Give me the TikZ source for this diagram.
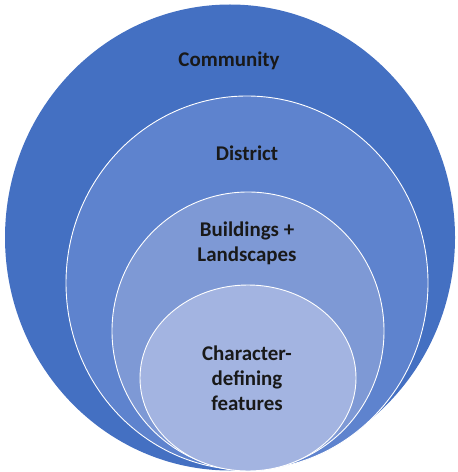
\documentclass[tikz,border=0pt]{standalone}
\usepackage{fontspec}
\setmainfont{Carlito}
\begin{document}
\begin{tikzpicture}[x=1bp,y=-1bp,
  ring/.style={draw=white,line width=0.9bp},
  lbl/.style={font=\bfseries\fontsize{21}{25}\selectfont,align=center,text=black!90}]
\useasboundingbox (0,0) rectangle (458,472);
\definecolor{c1}{RGB}{68,112,194}
\definecolor{c2}{RGB}{94,131,206}
\definecolor{c3}{RGB}{126,153,213}
\definecolor{c4}{RGB}{163,180,225}
\fill[c1] (230,237.5) ellipse [x radius=225, y radius=233];
\filldraw[ring,fill=c2] (247,283) ellipse [x radius=181, y radius=187];
\filldraw[ring,fill=c3] (248,331) ellipse [x radius=136, y radius=139];
\filldraw[ring,fill=c4] (248,378) ellipse [x radius=108, y radius=93];
\node[lbl] (community) at (229,61) {Community};
\node[lbl] (district) at (247,153) {District};
\node[lbl] (buildings) at (247,243) {Buildings +\\Landscapes};
\node[lbl] (character) at (247,378) {Character-\\defining\\features};
\end{tikzpicture}
\end{document}
